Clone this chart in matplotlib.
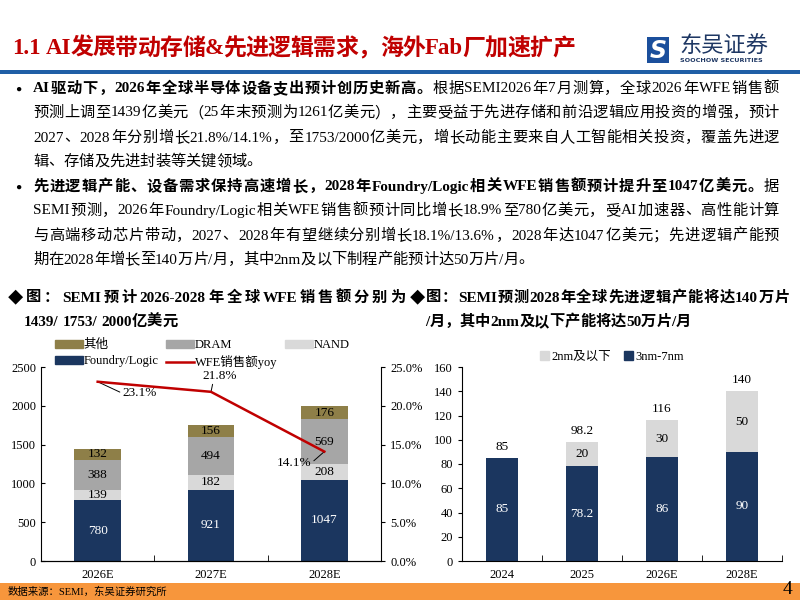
import re

import matplotlib
matplotlib.use("Agg")
import matplotlib.pyplot as plt
from matplotlib.lines import Line2D
from matplotlib.patches import Patch, Rectangle
from matplotlib.ticker import FuncFormatter, MultipleLocator

plt.rcParams["font.family"] = ["Liberation Serif", "Noto Sans CJK SC"]

# ---- chart data ----
wfe_years = ["2026E", "2027E", "2028E"]
foundry_logic = [780, 921, 1047]
nand = [139, 182, 208]
dram = [388, 494, 569]
others = [132, 156, 176]
wfe_yoy = [23.1, 21.8, 14.1]

cap_years = ["2024", "2025", "2026E", "2028E"]
node_3_7nm = [85, 78.2, 86, 90]
node_2nm = [0, 20, 30, 50]
cap_total = [85, 98.2, 116, 140]

# ---- slide text ----
title = "1.1 AI发展带动存储&先进逻辑需求，海外Fab厂加速扩产"
bullet1 = [
    [("AI驱动下，2026年全球半导体设备支出预计创历史新高。", True),
     ("根据SEMI2026年7月测算，全球2026年WFE销售额", False)],
    [("预测上调至1439亿美元（25年末预测为1261亿美元），主要受益于先进存储和前沿逻辑应用投资的增强，预计", False)],
    [("2027、2028年分别增长21.8%/14.1%，至1753/2000亿美元，增长动能主要来自人工智能相关投资，覆盖先进逻", False)],
    [("辑、存储及先进封装等关键领域。", False)],
]
bullet2 = [
    [("先进逻辑产能、设备需求保持高速增长，2028年Foundry/Logic相关WFE销售额预计提升至1047亿美元。", True),
     ("据", False)],
    [("SEMI预测，2026年Foundry/Logic相关WFE销售额预计同比增长18.9%至780亿美元，受AI加速器、高性能计算", False)],
    [("与高端移动芯片带动，2027、2028年有望继续分别增长18.1%/13.6%，2028年达1047亿美元；先进逻辑产能预", False)],
    [("期在2028年增长至140万片/月，其中2nm及以下制程产能预计达50万片/月。", False)],
]
cap_left = ["◆图：SEMI预计2026-2028年全球WFE销售额分别为", "1439/ 1753/ 2000亿美元"]
cap_right = ["◆图：SEMI预测2028年全球先进逻辑产能将达140万片", "/月，其中2nm及以下产能将达50万片/月"]
source = "数据来源：SEMI，东吴证券研究所"

NAVY = "#1B365F"
KHAKI = "#8E7F48"
GREY = "#A6A6A6"
LIGHT = "#D9D9D9"
RED = "#C00000"
BLUE = "#1F5FA6"
ORANGE = "#F7963C"

fig = plt.figure(figsize=(8, 6), dpi=100)
bg = fig.add_axes([0, 0, 1, 1])
bg.set_xlim(0, 800)
bg.set_ylim(600, 0)
bg.axis("off")
renderer = fig.canvas.get_renderer()


def draw_line(x0, y, segments, width=None, size=11, color="black"):
    """Draw mixed bold/normal text, optionally stretched to a given width."""
    tokens = []
    for txt, bold in segments:
        for tok in re.findall(r"[A-Za-z0-9./%\-]+|.", txt):
            tokens.append((tok, bold))
    arts, widths = [], []
    for tok, bold in tokens:
        t = bg.text(x0, y, tok, fontsize=size, color=color, va="center", ha="left",
                    fontweight="bold" if bold else "normal")
        arts.append(t)
        widths.append(t.get_window_extent(renderer).width)
    gap = 0
    if width is not None and len(tokens) > 1:
        gap = (width - sum(widths)) / (len(tokens) - 1)
    x = x0
    for t, w in zip(arts, widths):
        t.set_x(x)
        x += w + gap


# header
draw_line(12, 49, [(title, True)], width=563, size=16.5, color=RED)
bg.add_patch(Rectangle((0, 70), 800, 3.5, color=BLUE, lw=0))
bg.add_patch(Rectangle((647, 37), 22, 26, color="#1B4F9C", lw=0))
bg.text(658, 50.5, "S", fontsize=17, color="white", fontweight="bold",
        style="italic", ha="center", va="center", family="DejaVu Sans")
bg.text(679, 46, "东吴证券", fontsize=16, color="#1F3864", va="center",
        family="Noto Sans CJK SC")
bg.text(680, 61, "SOOCHOW SECURITIES", fontsize=4.6, color="#1F3864",
        fontweight="bold", va="center", family="DejaVu Sans")

# bullets
for lines, ys in [(bullet1, [89, 113, 138, 162]), (bullet2, [187, 211, 236, 260])]:
    bg.text(18, ys[0], "●", fontsize=7.5, va="center", ha="center")
    for i, (segs, y) in enumerate(zip(lines, ys)):
        w = 746 if i < len(lines) - 1 else None
        draw_line(33, y, segs, width=w, size=11)

# captions
draw_line(8, 298, [(cap_left[0], True)], width=397, size=11)
draw_line(24, 322, [(cap_left[1], True)], size=11)
draw_line(410, 298, [(cap_right[0], True)], width=380, size=11)
draw_line(425, 322, [(cap_right[1], True)], size=11)

# footer
bg.add_patch(Rectangle((0, 583), 800, 17, color=ORANGE, lw=0))
bg.text(8, 591.5, source, fontsize=7.5, va="center", ha="left")
bg.text(792, 590, "4", fontsize=14, va="center", ha="right")

TICK_FS = 9
LABEL_FS = 9.5


def style_axis(ax):
    ax.tick_params(axis="both", labelsize=TICK_FS, colors="black", width=0.8)
    ax.tick_params(axis="x", which="major", length=0, pad=6)
    ax.tick_params(axis="x", which="minor", length=4, direction="in")
    for s in ax.spines.values():
        s.set_linewidth(0.8)
    ax.spines["top"].set_visible(False)


# ---- left chart: WFE sales ----
ax = fig.add_axes([41 / 800, 39 / 600, 340 / 800, 194 / 600])
x = range(len(wfe_years))
bw = 0.41
stacks = [(foundry_logic, NAVY, "white"), (nand, LIGHT, "black"),
          (dram, GREY, "black"), (others, KHAKI, "black")]
bottom = [0] * len(wfe_years)
for vals, col, tcol in stacks:
    ax.bar(x, vals, bw, bottom=bottom, color=col, zorder=2)
    for i, v in enumerate(vals):
        ax.text(i, bottom[i] + v / 2, f"{v:g}", ha="center", va="center",
                fontsize=LABEL_FS, color=tcol, zorder=3)
    bottom = [b + v for b, v in zip(bottom, vals)]
ax.set_xlim(-0.5, 2.5)
ax.set_ylim(0, 2500)
ax.yaxis.set_major_locator(MultipleLocator(500))
ax.set_xticks(list(x))
ax.set_xticklabels(wfe_years)
ax.set_xticks([0.5, 1.5], minor=True)
style_axis(ax)
ax.tick_params(axis="y", direction="in", length=3)
ax.spines["right"].set_visible(False)

ax2 = ax.twinx()
ax2.plot(list(x), wfe_yoy, color=RED, lw=1.8, zorder=4)
ax2.set_ylim(0, 25)
ax2.yaxis.set_major_locator(MultipleLocator(5))
ax2.yaxis.set_major_formatter(FuncFormatter(lambda v, p: f"{v:.1f}%"))
style_axis(ax2)
ax2.tick_params(axis="y", direction="out", length=3)
ax2.spines["left"].set_visible(False)
ann_pos = [((0.22, 21.6), (0, 0.5), "left"),
           ((1.08, 23.9), (0.3, 0), "center"),
           ((1.73, 12.6), (1, 0.5), "center")]
for i, (v, (xy, rel, ha)) in enumerate(zip(wfe_yoy, ann_pos)):
    ax2.annotate(f"{v:.1f}%", xy=(i, v), xytext=xy, fontsize=LABEL_FS, ha=ha, va="center",
                 arrowprops=dict(arrowstyle="-", lw=0.7, color="black",
                                 shrinkA=0, shrinkB=0, relpos=rel))

handles = [Patch(color=KHAKI), Patch(color=NAVY), Patch(color=GREY),
           Line2D([], [], color=RED, lw=1.8), Patch(color=LIGHT)]
labels = ["其他", "Foundry/Logic", "DRAM", "WFE销售额yoy", "NAND"]
fig.legend(handles, labels, loc="upper left", bbox_to_anchor=(55 / 800, 1 - 339 / 600),
           ncol=3, frameon=False, fontsize=9, handlelength=2.2, handleheight=0.6,
           columnspacing=0.6, labelspacing=0.35, handletextpad=0.1, borderpad=0,
           borderaxespad=0)

# ---- right chart: advanced logic capacity ----
bx = fig.add_axes([462 / 800, 39 / 600, 320 / 800, 194 / 600])
xc = range(len(cap_years))
bx.bar(xc, node_3_7nm, bw, color=NAVY, zorder=2, label="3nm-7nm")
bx.bar(xc, node_2nm, bw, bottom=node_3_7nm, color=LIGHT, zorder=2, label="2nm及以下")
for i in xc:
    bx.text(i, node_3_7nm[i] / 2, f"{node_3_7nm[i]:g}", ha="center", va="center",
            fontsize=LABEL_FS, color="white")
    if node_2nm[i] > 0:
        bx.text(i, node_3_7nm[i] + node_2nm[i] / 2, f"{node_2nm[i]:g}", ha="center",
                va="center", fontsize=LABEL_FS)
    bx.annotate(f"{cap_total[i]:g}", xy=(i, cap_total[i]), xytext=(0, 8),
                textcoords="offset points", ha="center", va="center", fontsize=LABEL_FS)
bx.set_xlim(-0.5, 3.5)
bx.set_ylim(0, 160)
bx.yaxis.set_major_locator(MultipleLocator(20))
bx.set_xticks(list(xc))
bx.set_xticklabels(cap_years)
bx.set_xticks([0.5, 1.5, 2.5, 3.5], minor=True)
style_axis(bx)
bx.tick_params(axis="y", direction="out", length=3)
bx.spines["right"].set_visible(False)
fig.legend([Patch(color=LIGHT), Patch(color=NAVY)], ["2nm及以下", "3nm-7nm"],
           loc="center", bbox_to_anchor=(612 / 800, 1 - 357 / 600), ncol=2,
           frameon=False, fontsize=9, handlelength=0.7, handleheight=0.7,
           handletextpad=0.2, columnspacing=1.0, borderpad=0)

fig.savefig("out.png", dpi=100)
